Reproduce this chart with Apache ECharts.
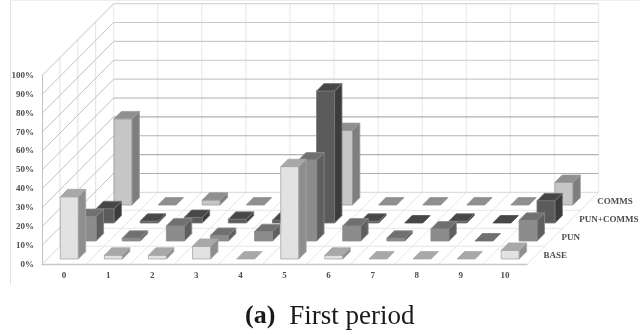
<!DOCTYPE html>
<html><head><meta charset="utf-8">
<style>html,body{margin:0;padding:0;background:#fff}#c{width:640px;height:335px;filter:blur(0.3px)}</style>
<script src="https://cdn.jsdelivr.net/npm/echarts@6/dist/echarts.min.js"></script>
</head><body><div id="c"></div>
<script>
const categories = ['0','1','2','3','4','5','6','7','8','9','10'];
const yTicks = [0,10,20,30,40,50,60,70,80,90,100];
const rowNames = ['BASE','PUN','PUN+COMMS','COMMS'];
const base      = [33, 2, 2, 6.7, 0, 49, 2, 0, 0, 0, 4.6];
const pun       = [13, 1.5, 8, 3, 5, 43, 8, 1.5, 6.4, 0, 11];
const punComms  = [7.6, 1, 3, 2, 1.5, 70, 1, 0, 1, 0, 11.8];
const comms     = [45.7, 0, 2.6, 0, 0, 39.5, 0, 0, 0, 0, 12];

const rowDx = 17.9, rowDy = -18;       // projection of one row of depth
const barFrac = 0.41;                  // bar size as a share of a cell
const palettes = [
  {front:'#e2e2e2', top:'#a8a8a8', side:'#8e8e8e', line:'#a6a6a6'},
  {front:'#8c8c8c', top:'#707070', side:'#5f5f5f', line:'#8a8a8a'},
  {front:'#5b5b5b', top:'#474747', side:'#3c3c3c', line:'#777777'},
  {front:'#c6c6c6', top:'#8f8f8f', side:'#7e7e7e', line:'#9a9a9a'}
];
const nRows = rowNames.length;

function poly(points, fill, stroke){
  return {type:'polygon', shape:{points}, style:{fill, stroke: stroke||fill, lineWidth:0.8}, silent:true};
}
function seg(a, b, stroke, w){
  return {type:'line', shape:{x1:a[0],y1:a[1],x2:b[0],y2:b[1]}, style:{stroke, lineWidth:w, fill:null}, silent:true};
}

function barSeries(row, values){
  const p = palettes[row];
  return {
    type:'custom', name:rowNames[row], z:10+(nRows-row), silent:true,
    data: values.map((v,i)=>[i,v]),
    encode:{x:0,y:1},
    renderItem(params, api){
      const band = api.size([1,0])[0];
      const c = api.coord([api.value(0), api.value(1)]);
      const b = api.coord([api.value(0), 0]);
      const cx = c[0] + rowDx*(row+0.5), floorY = b[1] + rowDy*(row+0.5);
      const h = b[1]-c[1];
      const bw = band*barFrac, ddx = rowDx*barFrac, ddy = rowDy*barFrac;
      const x0 = cx-bw/2-ddx/2, x1 = x0+bw;
      const yb = floorY-ddy/2, yt = yb-h;
      const children = [];
      if (h>0){
        children.push(poly([[x0,yb],[x1,yb],[x1,yt],[x0,yt]], p.front, p.line));
        children.push(poly([[x1,yb],[x1+ddx,yb+ddy],[x1+ddx,yt+ddy],[x1,yt]], p.side, p.line));
      }
      children.push(poly([[x0,yt],[x1,yt],[x1+ddx,yt+ddy],[x0+ddx,yt+ddy]], p.top, h>0?p.line:p.top));
      return {type:'group', children};
    }
  };
}

const wallSeries = {
  type:'custom', name:'walls', z:1, silent:true,
  data: yTicks.map(v=>[0,v]), encode:{x:0,y:1},
  renderItem(params, api){
    const band = api.size([1,0])[0];
    const left = api.coord([0,0])[0]-band/2;
    const right = api.coord([categories.length-1,0])[0]+band/2;
    const y = api.coord([0,api.value(1)])[1];
    const D = [rowDx*nRows, rowDy*nRows];
    const t = api.value(1)/100;
    const col = api.value(1)===0 ? '#d6d6d6' : (t>0.5 ? '#cacaca' : '#b0b0b0');
    return {type:'group', children:[
      seg([left,y],[left+D[0],y+D[1]], api.value(1)===0?'#e0e0e0':'#c2c2c2', 1),
      seg([left+D[0],y+D[1]],[right+D[0],y+D[1]], col, api.value(1)===0?1:1.1)
    ]};
  }
};

const catBounds = categories.map((c,i)=>[i,0]);
const gridSeries = {
  type:'custom', name:'floor', z:0, silent:true,
  data: catBounds, encode:{x:0,y:1},
  renderItem(params, api){
    const band = api.size([1,0])[0];
    const idx = api.value(0);
    const x0 = api.coord([idx,0])[0]-band/2;
    const yb = api.coord([idx,0])[1], yt = api.coord([idx,100])[1];
    const D = [rowDx*nRows, rowDy*nRows];
    const kids = [];
    const draw = (x)=>{
      kids.push(seg([x,yb],[x+D[0],yb+D[1]],'#e4e4e4',1));
      kids.push(seg([x+D[0],yb+D[1]],[x+D[0],yt+D[1]],'#eeeeee',1.4));
    };
    draw(x0);
    if (idx===categories.length-1) draw(x0+band);
    if (idx===0){
      for (let r=0;r<=nRows;r++){
        const xl = x0+rowDx*r, y = yb+rowDy*r;
        const xr = xl+band*categories.length;
        if(r>0&&r<nRows) kids.push(seg([xl,y],[xr,y],'#e6e6e6',1));
        if(r>0&&r<nRows) kids.push(seg([xl,y],[xl,yt+rowDy*r],'#e2e2e2',1));
      }
    }
    return {type:'group', children:kids};
  }
};

const rowLabelSeries = {
  type:'custom', name:'rowLabels', z:20, silent:true,
  data: rowNames.map((n,i)=>[categories.length-1,0,i]), encode:{x:0,y:1},
  renderItem(params, api){
    const band = api.size([1,0])[0];
    const c = api.coord([categories.length-1,0]);
    const r = api.value(2);
    return {type:'text', style:{
      text: rowNames[r], x:c[0]+band/2+rowDx*(r+0.5)+7.6, y:c[1]+rowDy*(r+0.5),
      fill:'#4d4d4d', font:'bold 9px "Liberation Serif"', textAlign:'left', textVerticalAlign:'middle'
    }, silent:true};
  }
};

const chart = echarts.init(document.getElementById('c'), null, {renderer:'canvas'});
chart.setOption({
  animation:false,
  backgroundColor:'#fff',
  title:{
    text:'{a|(a)}{b|First period}', left:240, top:298,
    textStyle:{rich:{
      a:{fontFamily:'Liberation Serif', fontWeight:'bold', fontSize:26, color:'#1a1a1a', padding:[0,14,0,0]},
      b:{fontFamily:'Liberation Serif', fontWeight:'normal', fontSize:27, color:'#1a1a1a'}
    }}
  },
  grid:{left:42, right:113, top:75.7, bottom:70.7, containLabel:false},
  xAxis:{type:'category', data:categories, boundaryGap:true,
    axisLine:{show:true,lineStyle:{color:'#c8c8c8',width:1.4}}, axisTick:{show:false}, splitLine:{show:false},
    axisLabel:{color:'#4d4d4d', fontFamily:'Liberation Serif', fontWeight:'bold', fontSize:9, margin:7, interval:0}},
  yAxis:{type:'value', min:0, max:100, interval:10,
    axisLine:{show:true,lineStyle:{color:'#c2c2c2',width:1}}, axisTick:{show:false}, splitLine:{show:false},
    axisLabel:{formatter:'{value}%', color:'#4d4d4d', fontFamily:'Liberation Serif', fontWeight:'bold', fontSize:9, margin:8}},
  graphic:[
    {type:'line', shape:{x1:10.5,y1:0,x2:10.5,y2:285}, style:{stroke:'#e2e2e2',lineWidth:1}, silent:true},
    {type:'line', shape:{x1:10,y1:0.5,x2:640,y2:0.5}, style:{stroke:'#eeeeee',lineWidth:1}, silent:true}
  ],
  series:[gridSeries, wallSeries, barSeries(3,comms), barSeries(2,punComms), barSeries(1,pun), barSeries(0,base), rowLabelSeries]
});
</script></body></html>
